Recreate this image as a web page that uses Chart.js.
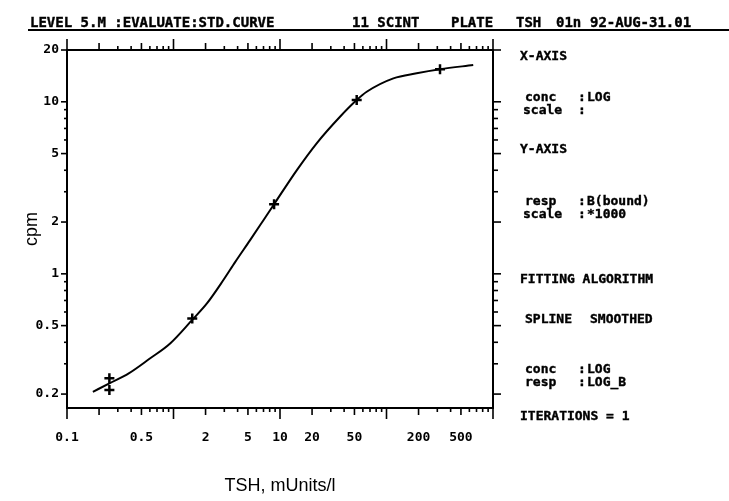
<!DOCTYPE html>
<html>
<head>
<meta charset="utf-8">
<script src="https://cdn.jsdelivr.net/npm/chart.js@4/dist/chart.umd.min.js"></script>
<style>
html,body{margin:0;padding:0;background:#fff;}
#wrap{position:relative;width:729px;height:501px;overflow:hidden;background:#fff;}
#c{position:absolute;left:0;top:0;}
.h{position:absolute;font:bold 14px "DejaVu Sans Mono",monospace;line-height:14px;white-space:pre;color:#000;-webkit-text-stroke:0.4px #000;}
.p{position:absolute;font:bold 13px "DejaVu Sans Mono",monospace;line-height:13px;white-space:pre;color:#000;-webkit-text-stroke:0.4px #000;}
#rule{position:absolute;left:28px;top:29px;width:701px;height:2px;background:#000;}
</style>
</head>
<body>
<div id="wrap">
<canvas id="c" width="729" height="501"></canvas>
<div id="rule"></div>
<div class="h" style="left:30px;top:15px;">LEVEL 5.M :EVALUATE:STD.CURVE</div>
<div class="h" style="left:352px;top:15px;">11 SCINT</div>
<div class="h" style="left:451px;top:15px;">PLATE</div>
<div class="h" style="left:516px;top:15px;">TSH</div>
<div class="h" style="left:556px;top:15px;">01n</div>
<div class="h" style="left:590px;top:15px;">92-AUG-31.01</div>

<div class="p" style="left:520px;top:49px;">X-AXIS</div>
<div class="p" style="left:525px;top:90px;">conc</div>
<div class="p" style="left:578px;top:90px;">:</div>
<div class="p" style="left:587px;top:90px;">LOG</div>
<div class="p" style="left:523px;top:103px;">scale</div>
<div class="p" style="left:578px;top:103px;">:</div>
<div class="p" style="left:520px;top:142px;">Y-AXIS</div>
<div class="p" style="left:525px;top:194px;">resp</div>
<div class="p" style="left:578px;top:194px;">:</div>
<div class="p" style="left:587px;top:194px;">B(bound)</div>
<div class="p" style="left:523px;top:207px;">scale</div>
<div class="p" style="left:578px;top:207px;">:</div>
<div class="p" style="left:587px;top:207px;">*1000</div>
<div class="p" style="left:520px;top:272px;">FITTING ALGORITHM</div>
<div class="p" style="left:525px;top:312px;">SPLINE</div>
<div class="p" style="left:590px;top:312px;">SMOOTHED</div>
<div class="p" style="left:525px;top:362px;">conc</div>
<div class="p" style="left:578px;top:362px;">:</div>
<div class="p" style="left:587px;top:362px;">LOG</div>
<div class="p" style="left:525px;top:375px;">resp</div>
<div class="p" style="left:578px;top:375px;">:</div>
<div class="p" style="left:587px;top:375px;">LOG_B</div>
<div class="p" style="left:520px;top:409px;">ITERATIONS = 1</div>
</div>
<script>
// ---- data ----
const curveConc = [0.175, 0.25, 0.38, 0.6, 0.93, 1.49, 2.06, 2.94, 3.79, 5.24, 6.99, 8.8, 14.4, 22.1, 36.6, 52.5, 65.2, 116, 192, 318, 652];
const curveResp = [0.206, 0.231, 0.264, 0.322, 0.394, 0.538, 0.673, 0.92, 1.17, 1.57, 2.05, 2.54, 4.01, 5.74, 8.19, 10.24, 11.44, 13.69, 14.64, 15.45, 16.36];
const stdConc = [0.25, 0.25, 1.5, 8.8, 52.5, 318];
const stdResp = [0.247, 0.211, 0.55, 2.54, 10.24, 15.45];
const xTickLabels = [0.1, 0.5, 2, 5, 10, 20, 50, 200, 500];
const yTickLabels = [0.2, 0.5, 1, 2, 5, 10, 20];
const xDecades = [0.1, 1, 10, 100, 1000];
const yMinorTicks = [9, 8, 7, 6, 4, 3, 0.9, 0.8, 0.7, 0.6, 0.4, 0.3];
const xRange = [0.1, 1000];
const yRange = [0.166, 20];

const fmt = v => String(v);

const tickMarks = {
  id: 'tickMarks',
  afterDraw(chart) {
    const ctx = chart.ctx, a = chart.chartArea;
    const xs = chart.scales.x, ys = chart.scales.y;
    ctx.save();
    ctx.strokeStyle = '#000';
    ctx.lineWidth = 1.6;
    const line = (x1, y1, x2, y2) => { ctx.beginPath(); ctx.moveTo(x1, y1); ctx.lineTo(x2, y2); ctx.stroke(); };
    xDecades.forEach((d, i) => {
      const ks = i === xDecades.length - 1 ? [1] : [1,2,3,4,5,6,7,8,9];
      ks.forEach(k => {
        const v = d * k;
        const px = xs.getPixelForValue(v);
        const len = k === 1 ? 11 : (k === 2 || k === 5 ? 7 : 4);
        line(px, a.bottom, px, a.bottom + len);
        line(px, a.top, px, a.top - len);
      });
    });
    yTickLabels.forEach(v => {
      const py = ys.getPixelForValue(v);
      line(a.left, py, a.left - 6, py);
      line(a.right, py, a.right + 8, py);
    });
    yMinorTicks.forEach(v => {
      const py = ys.getPixelForValue(v);
      line(a.left, py, a.left - 3, py);
      line(a.right, py, a.right + 5, py);
    });
    ctx.restore();
  }
};

const tickFont = {family: '"DejaVu Sans Mono", monospace', size: 13, weight: 'bold'};
const border = {display: true, color: '#000', width: 2};

new Chart(document.getElementById('c'), {
  type: 'scatter',
  data: {
    datasets: [
      {
        label: 'curve',
        data: curveConc.map((x, i) => ({x: x, y: curveResp[i]})),
        showLine: true,
        borderColor: '#000',
        borderWidth: 2,
        pointRadius: 0,
        cubicInterpolationMode: 'monotone',
        fill: false
      },
      {
        label: 'standards',
        data: stdConc.map((x, i) => ({x: x, y: stdResp[i]})),
        showLine: false,
        pointStyle: 'cross',
        pointRadius: 5,
        borderWidth: 2.5,
        borderColor: '#000',
        backgroundColor: '#000'
      }
    ]
  },
  options: {
    responsive: false,
    animation: false,
    devicePixelRatio: 1,
    layout: {padding: 0},
    plugins: {legend: {display: false}, tooltip: {enabled: false}, title: {display: false}},
    scales: {
      x: {
        type: 'logarithmic', position: 'bottom', min: xRange[0], max: xRange[1],
        afterFit: s => { s.height = 93; },
        afterBuildTicks: s => { s.ticks = xTickLabels.map(v => ({value: v})); },
        ticks: {autoSkip: false, maxRotation: 0, padding: 22, color: '#000', font: tickFont, callback: v => fmt(v)},
        grid: {display: true, drawOnChartArea: false, drawTicks: false},
        border: border,
        title: {display: true, text: 'TSH, mUnits/l', color: '#000', font: {family: '"Liberation Sans", Arial, sans-serif', size: 18}, padding: {top: 0, bottom: 4}}
      },
      x2: {
        type: 'logarithmic', position: 'top', min: xRange[0], max: xRange[1],
        afterFit: s => { s.height = 50; },
        ticks: {display: false},
        grid: {display: true, drawOnChartArea: false, drawTicks: false},
        border: border
      },
      y: {
        type: 'logarithmic', position: 'left', min: yRange[0], max: yRange[1],
        afterFit: s => { s.width = 67; },
        afterBuildTicks: s => { s.ticks = yTickLabels.map(v => ({value: v})); },
        ticks: {autoSkip: false, padding: 8, color: '#000', font: tickFont, callback: v => fmt(v)},
        grid: {display: true, drawOnChartArea: false, drawTicks: false},
        border: border,
        title: {display: true, text: 'cpm', color: '#000', font: {family: '"Liberation Sans", Arial, sans-serif', size: 18}, padding: {top: 21, bottom: 0}}
      },
      y2: {
        type: 'logarithmic', position: 'right', min: yRange[0], max: yRange[1],
        afterFit: s => { s.width = 236; },
        ticks: {display: false},
        grid: {display: true, drawOnChartArea: false, drawTicks: false},
        border: border
      }
    }
  },
  plugins: [tickMarks]
});
</script>
</body>
</html>
